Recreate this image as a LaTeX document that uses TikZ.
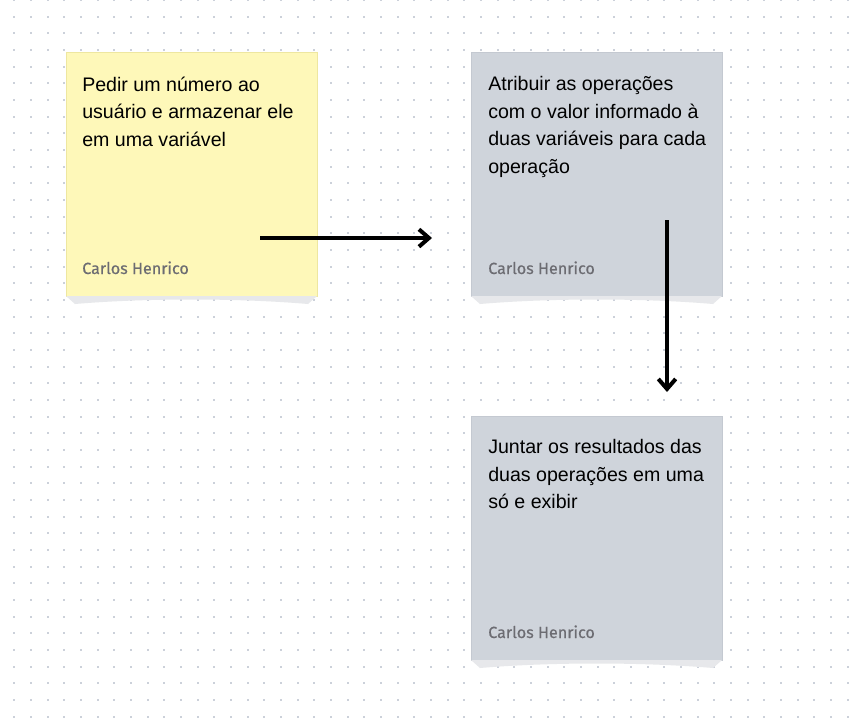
\documentclass[tikz,border=0pt]{standalone}
\usepackage{fontspec}
\setmainfont{Liberation Sans}
\newfontfamily\authorfont[FakeBold=0.5]{Fira Sans}
\usetikzlibrary{arrows.meta,positioning}
\definecolor{dotgray}{RGB}{204,209,218}
\definecolor{noteyellow}{RGB}{254,248,185}
\definecolor{noteyellowline}{RGB}{238,231,160}
\definecolor{notegray}{RGB}{207,212,219}
\definecolor{notegrayline}{RGB}{196,201,209}
\definecolor{noteshadow}{RGB}{231,232,235}
\definecolor{authorgray}{RGB}{108,108,114}
\tikzset{
  note/.style={line width=0.75pt, minimum width=188.25pt, minimum height=183pt, inner sep=0pt, outer sep=0pt, anchor=north west},
  yellownote/.style={note, fill=noteyellow, draw=noteyellowline},
  graynote/.style={note, fill=notegray, draw=notegrayline},
  notetext/.style={anchor=north west, inner sep=0pt, align=left, font=\fontsize{14.7}{20.6}\selectfont},
  author/.style={anchor=base west, inner sep=0pt, text=authorgray, font=\authorfont\fontsize{12.1}{14}\selectfont},
  flow/.style={line width=3pt, -{Straight Barb[length=7.5pt,width=13pt]}}
}
% shadow under the bottom edge of a note
\newcommand{\noteshadow}[1]{%
  \fill[noteshadow] (#1.south west) -- ++(9,8) .. controls +(70,-6) and +(-70,-6) .. ([shift={(-9,8)}]#1.south east) -- (#1.south east) -- cycle;}
\begin{document}
\begin{tikzpicture}[x=0.75pt, y=-0.75pt]
\useasboundingbox (0,0) rectangle (862,726);
\fill[white] (0,0) rectangle (862,726);
% dot grid
\foreach \i in {0,...,50}
  \foreach \j in {0,...,43}
    \fill[dotgray] (14.3+16.67*\i-1, 16.67*\j-1) rectangle +(2,2);
% notes
\node[yellownote] (pedir) at (66,52) {};
\node[graynote] (atribuir) at (471,52) {};
\node[graynote] (juntar) at (471,416) {};
\noteshadow{pedir}
\noteshadow{atribuir}
\noteshadow{juntar}
\node[notetext] (pedirtxt) at (82,76.5) {Pedir um número ao\\usuário e armazenar ele\\em uma variável};
\node[notetext] (atribuirtxt) at (488,76.5) {Atribuir as operações\\com o valor informado à\\duas variáveis para cada\\operação};
\node[notetext] (juntartxt) at (488,439.5) {Juntar os resultados das\\duas operações em uma\\só e exibir};
\node[author] (pedirautor) at (82,274) {Carlos Henrico};
\node[author] (atribuirautor) at (488,274) {Carlos Henrico};
\node[author] (juntarautor) at (488,638) {Carlos Henrico};
% arrows
\coordinate (pedirout) at (260,238);
\coordinate (atribuirin) at (432,238);
\coordinate (atribuirout) at (667,220);
\coordinate (juntarin) at (667,392);
\draw[flow] (pedirout) -- (atribuirin);
\draw[flow] (atribuirout) -- (juntarin);
\end{tikzpicture}
\end{document}
